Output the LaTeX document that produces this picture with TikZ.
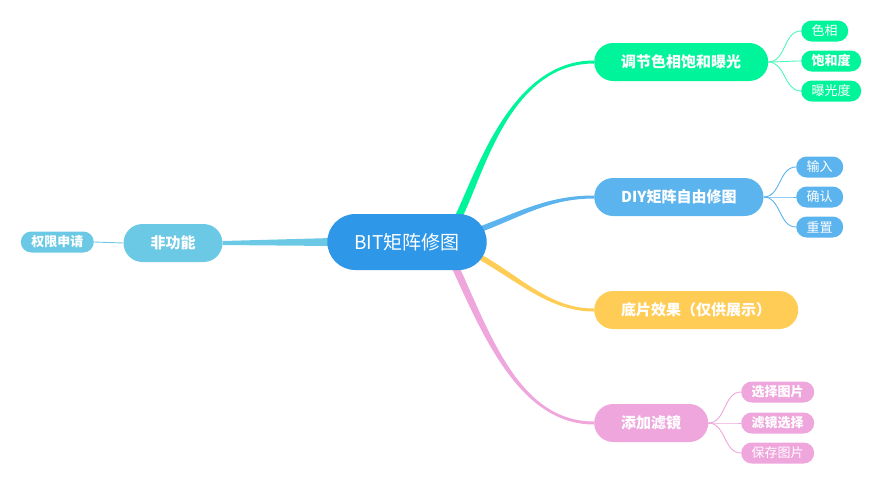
\documentclass[tikz,border=0pt]{standalone}
\usepackage{fontspec}
\setmainfont{Noto Sans CJK SC}
\usetikzlibrary{positioning, backgrounds}
\definecolor{rootblue}{HTML}{2F97E8}
\definecolor{grn}{HTML}{00F59B}
\definecolor{sky}{HTML}{5CB4EE}
\definecolor{yel}{HTML}{FFCC55}
\definecolor{pnk}{HTML}{EEA6DC}
\definecolor{lft}{HTML}{6CC9E5}
\tikzset{
    x=1pt, y=-1pt, % pixel-like coordinates, y grows downwards
    root/.style={fill=rootblue, text=white, minimum height=56pt, inner xsep=27pt, rounded corners=28pt, font=\fontsize{19}{22}\selectfont}, % the centre
    topic/.style={text=white, minimum height=38pt, inner xsep=27pt, rounded corners=19pt, font=\fontsize{15}{18}\selectfont\bfseries}, % main branches
    leaf/.style={text=white, minimum height=21pt, inner xsep=10.5pt, inner ysep=0pt, rounded corners=10.5pt, font=\fontsize{13}{15}\selectfont}, % small end nodes
    twig/.style={line width=0.9pt}, % thin connectors to the leaves
}
\begin{document}
\begin{tikzpicture}
\useasboundingbox (0,0) rectangle (885,485);
\node[root] (bit) at (407,242) {BIT矩阵修图};
\node[topic, fill=lft] (nf) at (173,243) {非功能};
\node[leaf, fill=lft, anchor=east, font=\fontsize{13}{15}\selectfont\bfseries] (perm) at (94,242) {权限申请};

\node[topic, fill=grn, anchor=west] (hue) at (594,62) {调节色相饱和曝光};
\node[leaf, fill=grn, anchor=west] (hue1) at (801,31) {色相};
\node[leaf, fill=grn, anchor=west, font=\fontsize{13}{15}\selectfont\bfseries] (hue2) at (801,61) {饱和度};
\node[leaf, fill=grn, anchor=west] (hue3) at (801,91) {曝光度};

\node[topic, fill=sky, anchor=west] (diy) at (594,197) {DIY矩阵自由修图};
\node[leaf, fill=sky, anchor=west] (diy1) at (796,167) {输入};
\node[leaf, fill=sky, anchor=west] (diy2) at (796,197) {确认};
\node[leaf, fill=sky, anchor=west] (diy3) at (796,227) {重置};

\node[topic, fill=yel, anchor=west] (neg) at (594,310) {底片效果（仅供展示）};

\node[topic, fill=pnk, anchor=west] (filt) at (594,423) {添加滤镜};
\node[leaf, fill=pnk, anchor=west, font=\fontsize{13}{15}\selectfont\bfseries] (filt1) at (741,392) {选择图片};
\node[leaf, fill=pnk, anchor=west, font=\fontsize{13}{15}\selectfont\bfseries] (filt2) at (741,423) {滤镜选择};
\node[leaf, fill=pnk, anchor=west] (filt3) at (741,453) {保存图片};

\begin{pgfonlayer}{background}
% tapered main branches
\fill[lft] ([yshift=2pt]nf.east) -- ([xshift=5pt,yshift=4pt]bit.west) -- ([xshift=5pt,yshift=-4pt]bit.west) -- ([yshift=-2pt]nf.east) -- cycle;
\fill[grn] ([xshift=47pt,yshift=-4pt]bit.north) .. controls +(22,-44) and +(-84,0) .. ([yshift=1.5pt]hue.west)
    -- ([yshift=-1.5pt]hue.west) .. controls +(-84,0) and +(22,-44) .. ([xshift=55pt,yshift=-4pt]bit.north) -- cycle;
\fill[sky] ([xshift=-6pt,yshift=16pt]bit.east) .. controls +(40,-15) and +(-45,0) .. ([yshift=1.5pt]diy.west)
    -- ([yshift=-1.5pt]diy.west) .. controls +(-45,0) and +(40,-15) .. ([xshift=-6pt,yshift=10pt]bit.east) -- cycle;
\fill[yel] ([xshift=-10pt,yshift=-10pt]bit.east) .. controls +(45,25) and +(-45,0) .. ([yshift=1.5pt]neg.west)
    -- ([yshift=-1.5pt]neg.west) .. controls +(-45,0) and +(45,25) .. ([xshift=-14pt,yshift=-14pt]bit.east) -- cycle;
\fill[pnk] ([xshift=52pt,yshift=4pt]bit.south) .. controls +(32,70) and +(-74,0) .. ([yshift=1.5pt]filt.west)
    -- ([yshift=-1.5pt]filt.west) .. controls +(-74,0) and +(32,70) .. ([xshift=44pt,yshift=4pt]bit.south) -- cycle;
% thin twigs
\draw[twig, lft] (perm.east) -- (nf.west);
\draw[twig, grn!70]
    (hue.east) edge[out=0, in=180] (hue1.west)
    (hue.east) edge[out=0, in=180] (hue2.west)
    (hue.east) edge[out=0, in=180] (hue3.west);
\draw[twig, sky]
    (diy.east) edge[out=0, in=180] (diy1.west)
    (diy.east) edge[out=0, in=180] (diy2.west)
    (diy.east) edge[out=0, in=180] (diy3.west);
\draw[twig, pnk]
    (filt.east) edge[out=0, in=180] (filt1.west)
    (filt.east) edge[out=0, in=180] (filt2.west)
    (filt.east) edge[out=0, in=180] (filt3.west);
\end{pgfonlayer}
\end{tikzpicture}
\end{document}
